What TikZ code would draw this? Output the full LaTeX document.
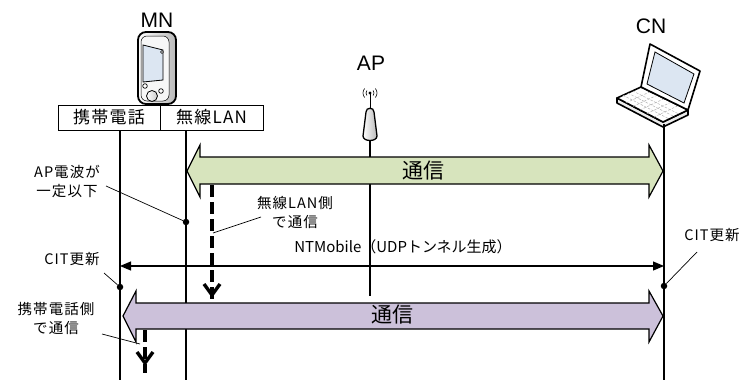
\documentclass[tikz,border=0pt]{standalone}
\usepackage{fontspec}
\setmainfont{Noto Sans CJK JP}
\newfontfamily\lat{Liberation Sans}
\newfontfamily\jpsp[LetterSpace=7]{Noto Sans CJK JP}
\usetikzlibrary{arrows.meta,calc}
\definecolor{gfill}{HTML}{D7E4BD}
\definecolor{pfill}{HTML}{CCC1DA}
\definecolor{scr}{HTML}{DCE6F2}
\begin{document}
\begin{tikzpicture}[x=1pt,y=-1pt,
  life/.style={line width=1.3pt},
  lead/.style={line width=0.7pt},
  dotmark/.style={circle,fill=black,inner sep=0pt,minimum size=6.5pt},
  lbl/.style={font=\jpsp\fontsize{14.5}{19}\selectfont,align=center,inner sep=0pt},
  title/.style={font=\lat\fontsize{21}{24}\selectfont,inner sep=0pt},
  cellbox/.style={draw,line width=1pt,minimum height=25pt,inner sep=0pt,font=\jpsp\fontsize{17}{19}\selectfont},
  bigarrow/.style={draw=black,line width=1.2pt,line join=miter},
  bigtext/.style={font=\fontsize{21}{24}\selectfont,inner sep=0pt},
  dsh/.style={line width=3.8pt,dash pattern=on 12pt off 5pt},
  ybar/.style={line width=3.4pt,line join=miter},
  ntarrow/.style={line width=1.2pt,{Triangle[length=11pt,width=9pt]}-{Triangle[length=11pt,width=9pt]}}
]
\useasboundingbox (0,0) rectangle (744,380);

% ---------- titles ----------
\node[title] (mn) at (157,20) {MN};
\node[title] (ap) at (371,63) {AP};
\node[title] (cn) at (651,26) {CN};

% ---------- phone icon ----------
\draw[line width=1.8pt,rounded corners=8pt,left color=white,right color=gray!55] (138,32) rectangle (176,104);
\draw[line width=0.5pt,rounded corners=6pt,fill=gray!6] (141,36) rectangle (169,101);
\draw[line width=0.8pt,fill=scr] (143,45) -- (163,50) -- (163,80) -- (143,82) -- cycle;
\draw[line width=0.7pt,fill=white] (162,52) circle[radius=1.5];
\draw[line width=0.7pt,fill=white] (145,86) circle[radius=2.3];
\draw[line width=0.7pt,fill=white] (161,91) circle[radius=2.3];
\draw[line width=0.8pt,left color=white,right color=gray!40] (152,96) circle[radius=5.5];

% ---------- AP icon ----------
\draw[line width=0.6pt] (370,93) ++(140:4) arc[start angle=140,end angle=220,radius=4];
\draw[line width=0.6pt] (370,93) ++(140:7) arc[start angle=140,end angle=220,radius=7];
\draw[line width=0.6pt] (370,93) ++(-40:4) arc[start angle=-40,end angle=40,radius=4];
\draw[line width=0.6pt] (370,93) ++(-40:7) arc[start angle=-40,end angle=40,radius=7];
\fill (370,93) circle[radius=1.7];
\draw[line width=1pt] (370,93) -- (370,110);
\draw[line width=1.3pt,left color=white,right color=gray!55]
  (366,112) .. controls (366,107) and (374,107) .. (374,112) -- (377,136)
  .. controls (377,142) and (363,142) .. (363,136) -- cycle;

% ---------- laptop icon ----------
\coordinate (BL) at (617,98);
\coordinate (BB) at (641,87);
\coordinate (BR) at (688,110);
\coordinate (BF) at (663,122);
\draw[line width=1.6pt,line join=round,fill=gray!15] (BL) -- (617,103) -- (663,127) -- (688,115) -- (BR) -- (BF) -- cycle;
\draw[line width=1.6pt,line join=round,fill=white] (BL) -- (BB) -- (BR) -- (BF) -- cycle;
\foreach \t in {0.25,0.45,0.65}{
  \draw[gray!60,line width=0.5pt,dash pattern=on 2.5pt off 1.5pt] ($(BL)!\t!(BB)$) -- ($(BF)!\t!(BR)$);}
\foreach \t in {0.2,0.35,0.5,0.65,0.8}{
  \draw[gray!60,line width=0.5pt,dash pattern=on 2.5pt off 1.5pt] ($(BL)!\t!(BF)$) -- ($(BB)!\t!(BR)$);}
\draw[line width=1.6pt,line join=round,fill=white] (650,44) -- (700,71) -- (BR) -- (BB) -- cycle;
\draw[line width=0.8pt,fill=scr] (655,52) -- (694,74) -- (684,103) -- (647,84) -- cycle;

% ---------- MN interface box ----------
\node[cellbox,minimum width=102pt] (cell) at (109,117.5) {携帯電話};
\node[cellbox,minimum width=103pt] (wlan) at (211.5,117.5) {無線LAN};

% ---------- lifelines ----------
\coordinate (cellT) at (120,130);  \coordinate (cellB) at (120,380);
\coordinate (wlanT) at (186,130);  \coordinate (wlanB) at (186,380);
\coordinate (apT)   at (370,140);  \coordinate (apB)   at (370,296);
\coordinate (cnT)   at (664,124);  \coordinate (cnB)   at (664,380);
\draw[life] (cellT) -- (cellB);
\draw[life] (wlanT) -- (wlanB);
\draw[life] (apT) -- (apB);
\draw[life] (cnT) -- (cnB);

% ---------- communication arrows ----------
\draw[bigarrow,fill=gfill] (187,171) -- (200,145) -- (200,157) -- (649,157) -- (649,145) -- (663,171)
  -- (649,197) -- (649,184) -- (200,184) -- (200,197) -- cycle;
\node[bigtext] (gtxt) at (423,171) {通信};

\draw[bigarrow,fill=pfill] (123,316) -- (136,291) -- (136,303) -- (649,303) -- (649,291) -- (663,316)
  -- (649,342) -- (649,329) -- (136,329) -- (136,342) -- cycle;
\node[bigtext] (ptxt) at (392,315) {通信};

% ---------- NTMobile arrow ----------
\coordinate (ntL) at (120,266);
\coordinate (ntR) at (664,266);
\draw[ntarrow] (ntL) -- (ntR);
\node[lbl,font=\fontsize{15}{18}\selectfont] (nt) at (403,247) {NTMobile（UDPトンネル生成）};

% ---------- dashed switch arrows ----------
\coordinate (d1T) at (212,185);  \coordinate (d1B) at (212,303);
\draw[dsh] (d1T) -- (d1B);
\draw[ybar] (204,284) -- (212,295) -- (220,284);
\coordinate (d2T) at (145,330);  \coordinate (d2B) at (145,373);
\draw[dsh] (d2T) -- (d2B);
\draw[ybar] (137,352) -- (145,363) -- (153,352);

% ---------- event dots ----------
\node[dotmark] (e1) at (186,222) {};
\node[dotmark] (e2) at (120,287) {};
\node[dotmark] (e3) at (664,286) {};

% ---------- labels and leaders ----------
\node[lbl] (apl) at (67,181) {AP電波が\\一定以下};
\coordinate (aplL) at (106,186);
\draw[lead] (aplL) -- (e1);

\node[lbl] (wl) at (295,212) {無線LAN側\\で通信};
\coordinate (wlL) at (261,217);
\coordinate (wlE) at (213,233);
\draw[lead] (wlL) -- (wlE);

\node[lbl] (cit1) at (72,259) {CIT更新};
\coordinate (cit1L) at (104,273);
\draw[lead] (cit1L) -- (e2);

\node[lbl] (cit2) at (712,235) {CIT更新};
\coordinate (cit2L) at (697,252);
\draw[lead] (cit2L) -- (e3);

\node[lbl] (mob) at (56,318) {携帯電話側\\で通信};
\coordinate (mobL) at (102,334);
\coordinate (mobE) at (140,344);
\draw[lead] (mobL) -- (mobE);
\end{tikzpicture}
\end{document}
